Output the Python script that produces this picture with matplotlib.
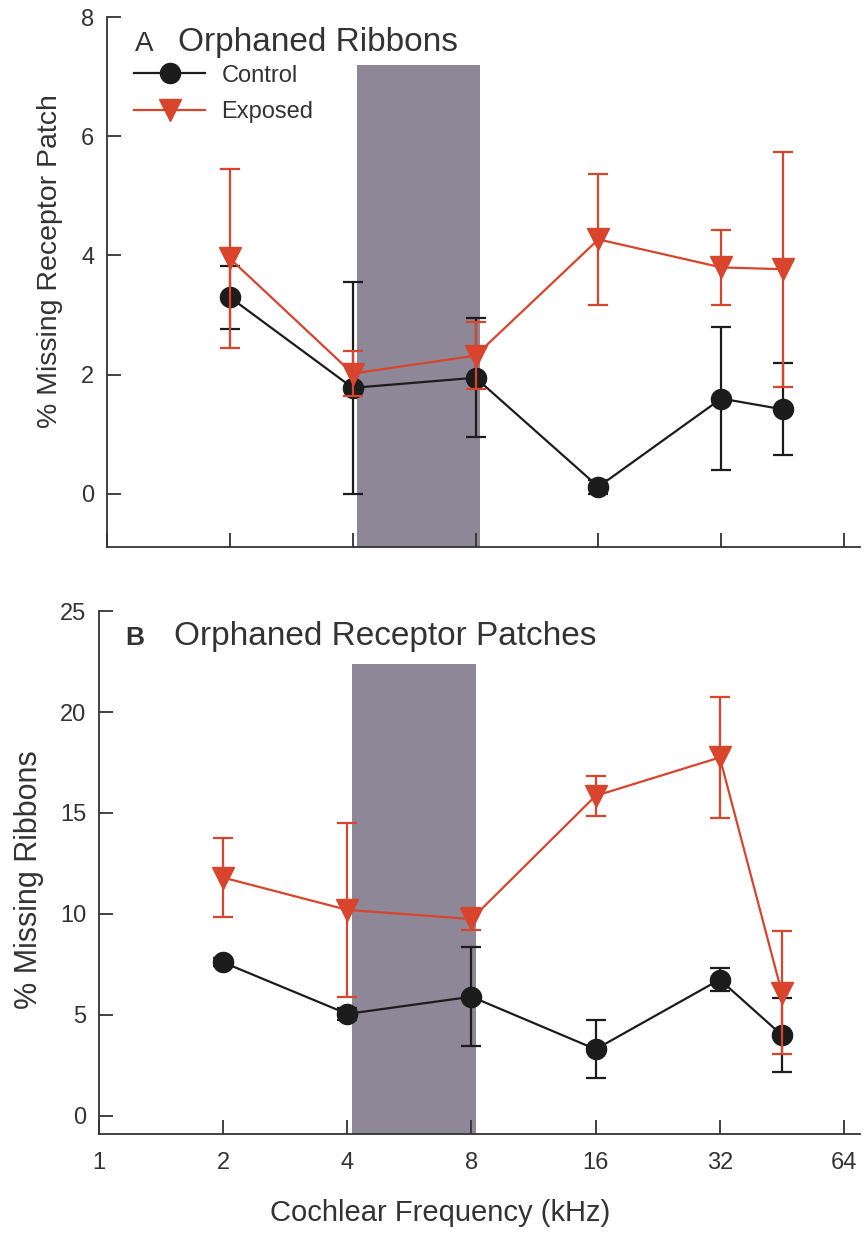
import matplotlib
matplotlib.use("Agg")
import matplotlib.pyplot as plt
from matplotlib import font_manager
from matplotlib.lines import Line2D

plt.rcParams["font.family"] = ["Liberation Sans", "DejaVu Sans"]

# fonte estreita para os numeros, se existir
_names = {f.name for f in font_manager.fontManager.ttflist}
narrow = "Liberation Sans Narrow" if "Liberation Sans Narrow" in _names else "Liberation Sans"
print("narrow font:", narrow)

# frequencias (kHz)
freq = [2, 4, 8, 16, 32, 45.25]

# Painel A - Orphaned Ribbons
a_control = [3.30, 1.78, 1.95, 0.12, 1.60, 1.42]
a_control_err = [0.53, 1.78, 1.00, 0.12, 1.20, 0.77]
a_exposed = [3.95, 2.02, 2.32, 4.27, 3.80, 3.77]
a_exposed_err = [1.50, 0.38, 0.56, 1.10, 0.63, 1.97]

# Painel B - Orphaned Receptor Patches
b_control = [7.6, 5.05, 5.9, 3.3, 6.75, 4.0]
b_control_err = [0.2, 0.3, 2.45, 1.45, 0.55, 1.85]
b_exposed = [11.8, 10.2, 9.75, 15.85, 17.75, 6.1]
b_exposed_err = [1.95, 4.3, 0.55, 1.0, 3.0, 3.05]

# faixa de exposicao (kHz) e altura da faixa em cada painel
band = (4.1, 8.2)
band_top = [7.2, 22.4]

x_ticks = [1, 2, 4, 8, 16, 32, 64]
x_tick_labels = ["1", "2", "4", "8", "16", "32", "64"]

red = "#d8442c"
black = "#1c1c1c"
shade = "#8e8797"
txt = "#333333"

fig = plt.figure(figsize=(8.67, 12.41), dpi=100)
ax1 = fig.add_axes([0.1234, 0.5592, 0.8685, 0.4271])
ax2 = fig.add_axes([0.1142, 0.0862, 0.8777, 0.4214])


def draw_panel(ax, ctrl, ctrl_err, expo, expo_err, ylim, yticks, top):
    ax.axvspan(band[0], band[1], ymin=0, ymax=(top - ylim[0]) / (ylim[1] - ylim[0]),
               color=shade, lw=0, zorder=0)
    ax.errorbar(freq, ctrl, yerr=ctrl_err, color=black, lw=1.6, marker="o", ms=14.5,
                capsize=7, capthick=1.6, elinewidth=1.6, zorder=3)
    ax.errorbar(freq, expo, yerr=expo_err, color=red, lw=1.6, marker="v", ms=15.5,
                capsize=7, capthick=1.6, elinewidth=1.6, zorder=4)
    ax.set_xscale("log", base=2)
    ax.set_xlim(1, 70)
    ax.set_ylim(*ylim)
    ax.set_xticks(x_ticks)
    ax.minorticks_off()
    ax.set_yticks(yticks)
    for s in ["top", "right"]:
        ax.spines[s].set_visible(False)
    for s in ["left", "bottom"]:
        ax.spines[s].set_linewidth(1.3)
        ax.spines[s].set_color(txt)
    ax.tick_params(direction="in", length=10, width=1.3, color=txt,
                   labelsize=17, labelcolor=txt, pad=9)


draw_panel(ax1, a_control, a_control_err, a_exposed, a_exposed_err,
           (-0.89, 8), [0, 2, 4, 6, 8], band_top[0])
ax1.set_xticklabels([])

draw_panel(ax2, b_control, b_control_err, b_exposed, b_exposed_err,
           (-0.9, 25), [0, 5, 10, 15, 20, 25], band_top[1])
ax2.set_xticklabels(x_tick_labels)
ax2.tick_params(axis="x", pad=13)

for ax in (ax1, ax2):
    for lbl in ax.get_xticklabels() + ax.get_yticklabels():
        lbl.set_family(narrow)

# titulos dos paineis
ax1.text(0.037, 0.935, "A", transform=ax1.transAxes, fontsize=20, color=txt, va="baseline")
ax1.text(0.094, 0.935, "Orphaned Ribbons", transform=ax1.transAxes, fontsize=24,
         color=txt, va="baseline")
ax2.text(0.034, 0.935, "B", transform=ax2.transAxes, fontsize=19, color=txt,
         fontweight="bold", va="baseline")
ax2.text(0.099, 0.935, "Orphaned Receptor Patches", transform=ax2.transAxes, fontsize=24,
         color=txt, va="baseline")

# legenda
handles = [
    Line2D([], [], color=black, lw=1.6, marker="o", ms=14.5),
    Line2D([], [], color=red, lw=1.6, marker="v", ms=15.5),
]
leg = ax1.legend(handles, ["Control", "Exposed"], loc="upper left",
                 bbox_to_anchor=(0.036, 0.91), frameon=False, fontsize=17,
                 handlelength=3.0, handletextpad=0.7, labelspacing=0.6,
                 borderpad=0, borderaxespad=0)
for t in leg.get_texts():
    t.set_color(txt)

ax1.set_ylabel("% Missing Receptor Patch", fontsize=20.5, color=txt)
ax1.yaxis.set_label_coords(-0.058, 0.54)
ax2.set_ylabel("% Missing Ribbons", fontsize=22, color=txt)
ax2.yaxis.set_label_coords(-0.072, 0.486)

fig.text(0.5075, 0.0226, "Cochlear Frequency (kHz)", fontsize=21, color=txt,
         family=narrow, ha="center", va="center")

fig.savefig("out.png", dpi=100)
plt.close(fig)
